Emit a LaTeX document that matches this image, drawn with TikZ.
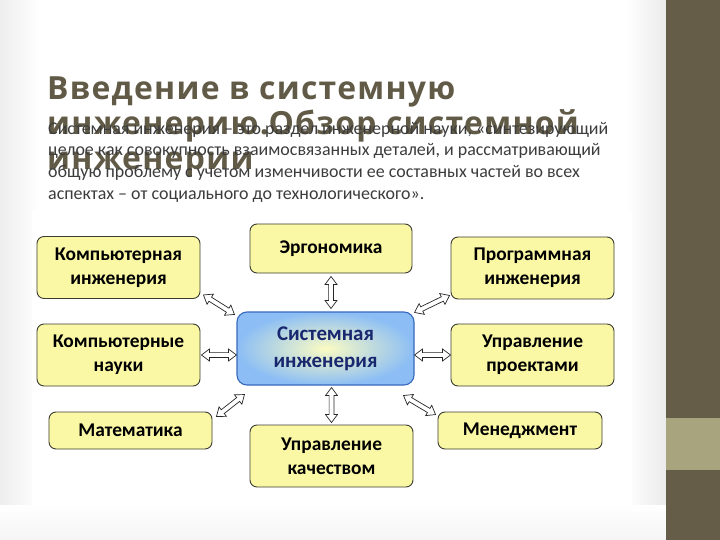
\documentclass[tikz,border=0pt]{standalone}
\usepackage{fontspec}
\setmainfont{Carlito}
\newfontfamily\titlefont[LetterSpace=4]{Open Sans}
\usetikzlibrary{calc}

% colours of the slide
\definecolor{bandbrown}{RGB}{101,93,72}
\definecolor{bandlight}{RGB}{168,164,126}
\definecolor{titlebrown}{RGB}{96,90,70}
\definecolor{bodygray}{RGB}{60,60,60}
\definecolor{boxyellow}{RGB}{250,248,165}
\definecolor{boxedge}{RGB}{60,60,50}
\definecolor{sysblue}{RGB}{140,190,245}
\definecolor{sysedge}{RGB}{55,105,190}
\definecolor{sysink}{RGB}{25,40,110}
\definecolor{sysglow}{RGB}{252,252,195}

\tikzset{
  topic/.style={draw=boxedge, line width=0.9bp, fill=boxyellow,
    rounded corners=7bp, minimum width=163bp, minimum height=62bp,
    inner sep=0pt, align=center,
    font=\fontsize{19.5}{24}\selectfont\bfseries},
  hub/.style={draw=sysedge, line width=1.1bp, rounded corners=10bp,
    inner color=sysglow, outer color=sysblue,
    minimum width=177bp, minimum height=73bp, inner sep=0pt,
    align=center, text=sysink,
    font=\fontsize{21}{27}\selectfont\bfseries},
  link/.style={draw=black!85, line width=0.7bp, fill=white, line join=miter}
}

% Двусторонняя полая стрелка между двумя точками
\newcommand{\twoway}[2]{%
  \coordinate (tw-a) at (#1);
  \coordinate (tw-b) at (#2);
  \coordinate (tw-ha) at ($(tw-a)!8bp!(tw-b)$);
  \coordinate (tw-hb) at ($(tw-b)!8bp!(tw-a)$);
  \draw[link] (tw-a) -- ($(tw-ha)!6bp!90:(tw-b)$) -- ($(tw-ha)!2.4bp!90:(tw-b)$)
    -- ($(tw-hb)!2.4bp!-90:(tw-a)$) -- ($(tw-hb)!6bp!-90:(tw-a)$) -- (tw-b)
    -- ($(tw-hb)!6bp!90:(tw-a)$) -- ($(tw-hb)!2.4bp!90:(tw-a)$)
    -- ($(tw-ha)!2.4bp!-90:(tw-b)$) -- ($(tw-ha)!6bp!-90:(tw-b)$) -- cycle;
}

\begin{document}
\begin{tikzpicture}[x=1bp, y=-1bp]

        % ===============================
        % Фон слайда
        % ===============================
        \useasboundingbox (0,0) rectangle (720,540);
        \fill[white] (0,0) rectangle (666,540);
        \shade[left color=gray!14, right color=white] (0,0) rectangle (40,540);
        \shade[left color=white, right color=gray!16] (626,0) rectangle (666,540);
        \shade[top color=white, bottom color=gray!8] (0,505) rectangle (666,540);
        \fill[white] (32,210) rectangle (632,505);
        \fill[bandbrown] (666,0) rectangle (720,540);
        \fill[bandlight] (666,418) rectangle (720,470);

        % ===============================
        % Заголовок и определение
        % ===============================
        \node[anchor=north west, inner sep=0pt, align=left, text=titlebrown,
              font=\titlefont\bfseries\fontsize{32}{35}\selectfont] (title) at (47,77)
            {Введение в системную\\инженерию.Обзор системной\\инженерии};

        \node[anchor=north west, inner sep=0pt, align=left, text=bodygray,
              font=\fontsize{18}{21.7}\selectfont] (definition) at (48,122)
            {Системная инженерия – это раздел инженерной науки, «синтезирующий\\
             целое как совокупность взаимосвязанных деталей, и рассматривающий\\
             общую проблему с учетом изменчивости ее составных частей во всех\\
             аспектах – от социального до технологического».};

        % ===============================
        % Блоки схемы
        % ===============================
        \node[hub] (sys) at (325.5,348.5) {Системная\\инженерия};

        \node[topic] (compeng) at (118.5,267.5) {Компьютерная\\инженерия};
        \node[topic, minimum width=162bp, minimum height=49bp] (ergo) at (331,248.5) {Эргономика};
        \node[topic] (proging) at (532.5,268) {Программная\\инженерия};
        \node[topic] (compsci) at (118.5,355) {Компьютерные\\науки};
        \node[topic] (projmgmt) at (532.5,355) {Управление\\проектами};
        \node[topic, minimum height=37bp] (math) at (130.5,430.5) {Математика};
        \node[topic] (quality) at (331.5,456) {Управление\\качеством};
        \node[topic, minimum width=164bp, minimum height=37bp] (mgmt) at (520,430.5) {Менеджмент};

        % ===============================
        % Двусторонние связи
        % ===============================
        \twoway{$(compeng.south east)+(3,-4)$}{$(sys.north west)+(-2,3)$}
        \twoway{$(ergo.south)+(0,3)$}{$(ergo.south |- sys.north)+(0,-3)$}
        \twoway{$(sys.north east)+(0,1)$}{$(proging.south west)+(-1,-4)$}
        \twoway{$(compsci.east)+(1,0)$}{compsci.east -| sys.west}
        \twoway{sys.east |- projmgmt.west}{projmgmt.west}
        \twoway{$(math.north east)+(4,5)$}{$(sys.south west)+(8,9)$}
        \twoway{$(sys.south -| quality.north)+(0,2)$}{$(quality.north)+(0,-2)$}
        \twoway{$(sys.south east)+(-11,10)$}{$(mgmt.north west)+(-2,3)$}

    \end{tikzpicture}
\end{document}
